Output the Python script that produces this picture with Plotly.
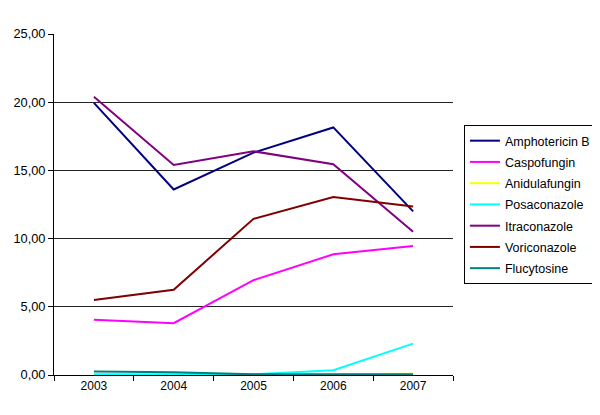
import plotly.graph_objects as go

years = ["2003", "2004", "2005", "2006", "2007"]
amphotericin_b = [19.95, 13.6, 16.3, 18.15, 12.0]
caspofungin = [4.05, 3.8, 6.95, 8.85, 9.45]
anidulafungin = [0.0, 0.0, 0.0, 0.05, 0.1]
posaconazole = [0.05, 0.05, 0.05, 0.35, 2.3]
itraconazole = [20.4, 15.4, 16.4, 15.45, 10.5]
voriconazole = [5.5, 6.25, 11.45, 13.05, 12.35]
flucytosine = [0.25, 0.2, 0.05, 0.05, 0.05]

series = [
    ("Amphotericin B", amphotericin_b, "#000080"),
    ("Caspofungin", caspofungin, "#FF00FF"),
    ("Anidulafungin", anidulafungin, "#FFFF00"),
    ("Posaconazole", posaconazole, "#00FFFF"),
    ("Itraconazole", itraconazole, "#800080"),
    ("Voriconazole", voriconazole, "#800000"),
    ("Flucytosine", flucytosine, "#008080"),
]

fig = go.Figure()
for i, (name, vals, color) in enumerate(series):
    fig.add_trace(go.Scatter(x=years, y=vals, name=name, mode="lines",
                             legendgroup=f"g{i}",
                             line=dict(color=color, width=2)))

fig.update_layout(
    width=600, height=415,
    margin=dict(l=46, r=152, t=26, b=48),
    paper_bgcolor="white", plot_bgcolor="white",
    font=dict(family="Liberation Sans, Arial", size=12, color="black"),
    separators=",.",
    showlegend=True,
    legend=dict(x=1.0274, y=0.733, xanchor="left", yanchor="top",
                bordercolor="black", borderwidth=1, bgcolor="white",
                font=dict(size=12.5), tracegroupgap=2, itemwidth=30),
)
fig.update_xaxes(type="category", showline=True, linecolor="black", linewidth=1,
                 ticks="outside", tickson="boundaries", ticklen=5, tickcolor="black",
                 showgrid=False, range=[-0.5, 4.5], tickfont=dict(size=12),
                 automargin=False)
fig.update_yaxes(range=[0, 25], dtick=5, tickformat=".2f", showline=True,
                 linecolor="black", linewidth=1, ticks="outside", ticklen=5,
                 tickcolor="black", showgrid=True, gridcolor="#222222", gridwidth=1,
                 zeroline=False, tickfont=dict(size=12.8), automargin=False)

fig.write_html("out.html")
